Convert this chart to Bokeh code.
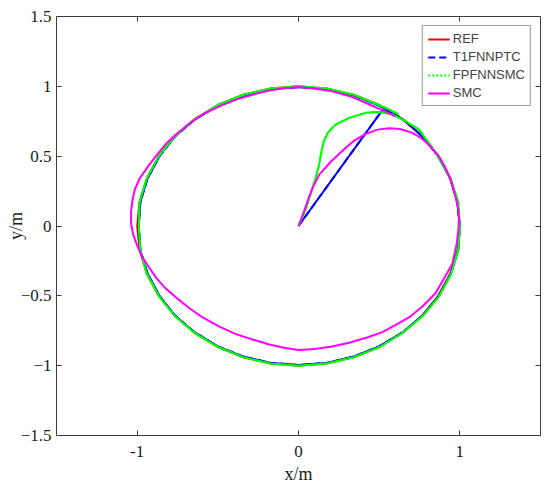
from bokeh.plotting import figure
from bokeh.models import (LinearAxis, Range1d, FixedTicker, Legend, LegendItem)
from bokeh.embed import file_html
from bokeh.resources import INLINE

# ---------------- data ----------------
REF_X = [0, 0.174, 0.342, 0.5, 0.643, 0.766, 0.866, 0.94, 0.985, 1, 0.985, 0.94, 0.866, 0.766,
         0.643, 0.5, 0.342, 0.174, 0, -0.174, -0.342, -0.5, -0.643, -0.766, -0.866, -0.94,
         -0.985, -1, -0.985, -0.94, -0.866, -0.766, -0.643, -0.5, -0.342, -0.174, 0]
REF_Y = [1, 0.985, 0.94, 0.866, 0.766, 0.643, 0.5, 0.342, 0.174, 0, -0.174, -0.342, -0.5, -0.643,
         -0.766, -0.866, -0.94, -0.985, -1, -0.985, -0.94, -0.866, -0.766, -0.643, -0.5, -0.342,
         -0.174, 0, 0.174, 0.342, 0.5, 0.643, 0.766, 0.866, 0.94, 0.985, 1]

T1_X = [0, 0.26, 0.52, 0.6, 0.68, 0.766, 0.866, 0.94, 0.985, 1.0, 0.99, 0.945, 0.87, 0.77, 0.645,
        0.5, 0.342, 0.174, 0, -0.174, -0.342, -0.5, -0.643, -0.766, -0.862, -0.935, -0.98, -0.99,
        -0.98, -0.935, -0.862, -0.766, -0.643, -0.5, -0.342, -0.174, 0, 0.174, 0.342, 0.5, 0.56]
T1_Y = [0, 0.415, 0.83, 0.8, 0.735, 0.643, 0.5, 0.342, 0.174, 0, -0.17, -0.34, -0.5, -0.64, -0.762,
        -0.862, -0.935, -0.98, -0.995, -0.98, -0.935, -0.862, -0.762, -0.64, -0.5, -0.342, -0.174, 0,
        0.174, 0.342, 0.5, 0.64, 0.762, 0.862, 0.935, 0.98, 0.995, 0.98, 0.935, 0.862, 0.83]

FP_X = [0, 0.045, 0.087, 0.115, 0.128, 0.14, 0.155, 0.18, 0.23, 0.314, 0.417, 0.5, 0.58, 0.665,
        0.747, 0.83, 0.9, 0.945, 0.99, 1.0, 0.99, 0.945, 0.87, 0.77, 0.645, 0.5, 0.342, 0.174, 0,
        -0.174, -0.342, -0.5, -0.645, -0.766, -0.866, -0.94, -0.98, -0.99, -0.985, -0.94, -0.866,
        -0.766, -0.643, -0.5, -0.342, -0.174, 0, 0.174, 0.342, 0.5, 0.56, 0.62]
FP_Y = [0, 0.12, 0.274, 0.38, 0.44, 0.52, 0.6, 0.665, 0.726, 0.774, 0.81, 0.816, 0.8, 0.75,
        0.69, 0.56, 0.43, 0.33, 0.174, 0, -0.174, -0.345, -0.505, -0.645, -0.765, -0.868, -0.94,
        -0.985, -1.0, -0.985, -0.94, -0.866, -0.765, -0.645, -0.5, -0.342, -0.174, 0, 0.174, 0.342,
        0.5, 0.643, 0.766, 0.866, 0.94, 0.985, 1.0, 0.985, 0.94, 0.866, 0.835, 0.8]

SMC_X = [0, 0.03, 0.06, 0.09, 0.13, 0.2, 0.293, 0.35, 0.417, 0.49, 0.56, 0.63, 0.706, 0.76,
         0.81, 0.87, 0.91, 0.95, 0.975, 0.99, 0.995, 0.99, 0.98, 0.954, 0.91, 0.85, 0.77, 0.685,
         0.6, 0.52, 0.42, 0.314, 0.2, 0.1, 0, -0.09, -0.18, -0.28, -0.388, -0.49, -0.594, -0.68,
         -0.76, -0.83, -0.883, -0.93, -0.966, -1.0, -1.025, -1.038, -1.038, -1.03, -1.015, -0.985,
         -0.93, -0.87, -0.82, -0.76, -0.68, -0.594, -0.49, -0.388, -0.28, -0.18, -0.09, 0, 0.1,
         0.21, 0.33, 0.44, 0.52, 0.6]
SMC_Y = [0, 0.09, 0.19, 0.28, 0.37, 0.46, 0.56, 0.615, 0.66, 0.69, 0.7, 0.695, 0.667, 0.63,
         0.58, 0.5, 0.42, 0.31, 0.2, 0.12, 0.05, -0.04, -0.13, -0.27, -0.36, -0.48, -0.575, -0.655,
         -0.71, -0.76, -0.8, -0.836, -0.865, -0.881, -0.888, -0.872, -0.848, -0.814, -0.774, -0.72,
         -0.655, -0.585, -0.51, -0.44, -0.37, -0.29, -0.226, -0.14, -0.06, 0.02, 0.1, 0.18, 0.26,
         0.34, 0.43, 0.52, 0.59, 0.655, 0.73, 0.8, 0.856, 0.905, 0.942, 0.97, 0.987, 0.995, 0.985,
         0.964, 0.925, 0.87, 0.83, 0.785]

X_TICKS = [-1, 0, 1]
X_TICK_LABELS = ["-1", "0", "1"]
Y_TICKS = [-1.5, -1, -0.5, 0, 0.5, 1, 1.5]
Y_TICK_LABELS = ["\u22121.5", "\u22121", "\u22120.5", "0", "0.5", "1", "1.5"]

NAMES = ["REF", "T1FNNPTC", "FPFNNSMC", "SMC"]
COLORS = ["#ff0000", "#0000ff", "#00ff00", "#ff00ff"]
DASHES = ["solid", "7 4", "2 2", "solid"]

SERIF = "Liberation Serif"
AX_COLOR = "#3c3c3c"

p = figure(frame_width=484, frame_height=419, output_backend="svg", toolbar_location=None,
           x_range=Range1d(-1.5, 1.5), y_range=Range1d(-1.5, 1.5),
           min_border_left=56, min_border_top=16, min_border_right=7, min_border_bottom=50)
p.grid.visible = False
p.outline_line_color = None
p.background_fill_color = "white"
p.border_fill_color = "white"


def style_axis(ax, ticks, labels, show):
    ax.ticker = FixedTicker(ticks=ticks)
    ax.major_label_overrides = {t: l for t, l in zip(ticks, labels)}
    ax.axis_line_color = AX_COLOR
    ax.axis_line_width = 1
    ax.major_tick_line_color = AX_COLOR
    ax.major_tick_in = 5
    ax.major_tick_out = 0
    ax.minor_tick_line_color = None
    ax.major_label_text_font = SERIF
    ax.major_label_text_font_size = "17px" if show else "0px"
    ax.major_label_text_color = "#1a1a1a"


style_axis(p.xaxis[0], X_TICKS, X_TICK_LABELS, True)
style_axis(p.yaxis[0], Y_TICKS, Y_TICK_LABELS, True)
p.xaxis[0].major_label_standoff = 10
p.yaxis[0].major_label_standoff = 5

p.xaxis[0].axis_label = "x/m"
p.yaxis[0].axis_label = "y/m"
for ax, so in ((p.xaxis[0], 4), (p.yaxis[0], -8)):
    ax.axis_label_text_font = SERIF
    ax.axis_label_text_font_size = "18px"
    ax.axis_label_text_font_style = "normal"
    ax.axis_label_text_color = "#1a1a1a"
    ax.axis_label_standoff = so

top = LinearAxis()
right = LinearAxis()
style_axis(top, X_TICKS, ["", "", ""], False)
style_axis(right, Y_TICKS, [""] * 7, False)
top.major_label_standoff = 0
right.major_label_standoff = 0
p.add_layout(top, "above")
p.add_layout(right, "right")

series = [(REF_X, REF_Y), (T1_X, T1_Y), (FP_X, FP_Y), (SMC_X, SMC_Y)]
items = []
for (xs, ys), name, c, d in zip(series, NAMES, COLORS, DASHES):
    if d == "solid":
        r = p.line(xs, ys, line_color=c, line_width=2)
        items.append(LegendItem(label=name, renderers=[r]))
    else:
        # styled twin (used for the legend), covered by the solid trace drawn on top
        rd = p.line(xs, ys, line_color=c, line_width=2, line_dash=d)
        p.line(xs, ys, line_color=c, line_width=2)
        items.append(LegendItem(label=name, renderers=[rd]))

leg = Legend(items=items, location="top_right")
leg.label_text_font = "Liberation Sans"
leg.label_text_font_size = "13px"
leg.label_height = 14
leg.glyph_height = 14
leg.glyph_width = 22
leg.spacing = 3
leg.padding = 5
leg.margin = 9
leg.label_standoff = 3
leg.border_line_color = "#333333"
leg.border_line_width = 1
leg.background_fill_color = "white"
leg.background_fill_alpha = 1
p.add_layout(leg)

open("out.html", "w").write(file_html(p, INLINE))
